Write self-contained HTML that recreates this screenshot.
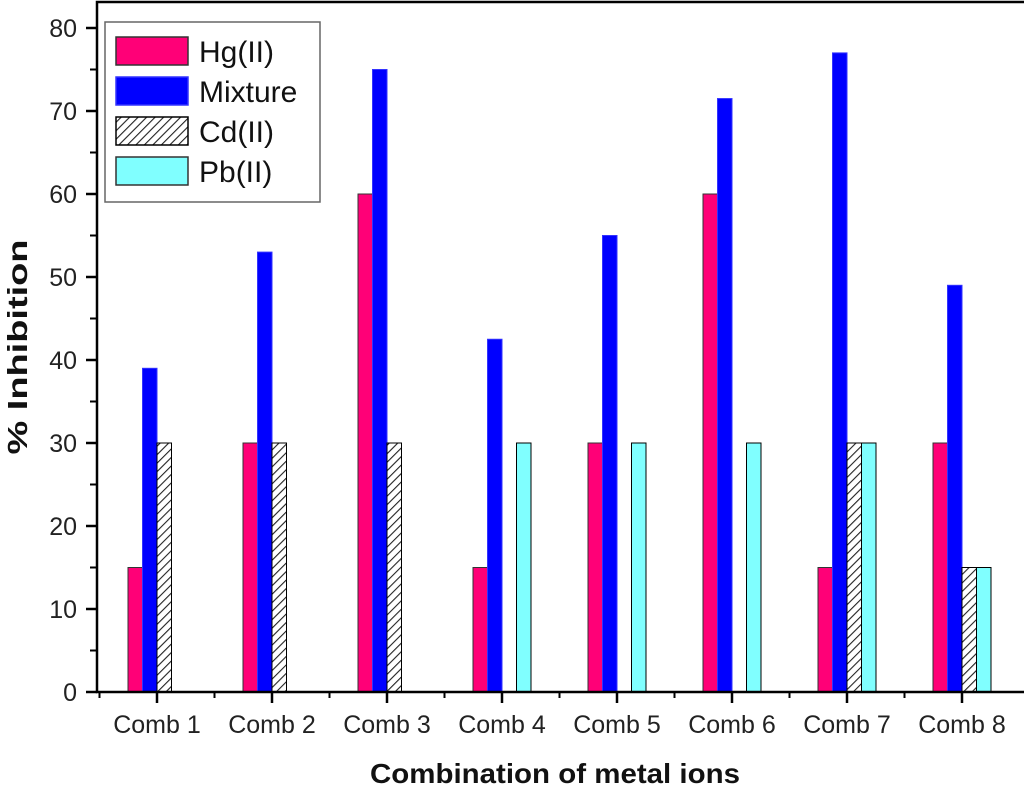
<!DOCTYPE html>
<html><head><meta charset="utf-8"><style>
body{margin:0;background:#fff;overflow:hidden;}
svg{display:block;font-family:"Liberation Sans",Arial,sans-serif;}
</style></head><body>
<svg id="chart" width="1024" height="787">
<defs>
<pattern id="hatch" patternUnits="userSpaceOnUse" width="6" height="6" patternTransform="rotate(45)">
<rect width="6" height="6" fill="#fff"/><line x1="0" y1="0" x2="0" y2="6" stroke="#222" stroke-width="2.2"/>
</pattern>
</defs>
<g id="bars"></g>
<g id="axes"></g>
</svg>
<script>
const categories=["Comb 1","Comb 2","Comb 3","Comb 4","Comb 5","Comb 6","Comb 7","Comb 8"];
const hgValues=[15,30,60,15,30,60,15,30];
const mixValues=[39,53,75,42.5,55,71.5,77,49];
const cdValues=[30,30,30,0,0,0,30,15];
const pbValues=[0,0,0,30,30,30,30,15];
const yTicks=[0,10,20,30,40,50,60,70,80];
const seriesNames=["Hg(II)","Mixture","Cd(II)","Pb(II)"];

const NS="http://www.w3.org/2000/svg";
const x0=97,x1=1032,yTop=2,yBot=692;
const xs=i=>157+i*115;
const ys=v=>692-v*8.3;
function mk(t,a,p){const e=document.createElementNS(NS,t);for(const k in a)e.setAttribute(k,a[k]);(p||document.getElementById('chart')).appendChild(e);return e;}
const bars=document.getElementById('bars'),axes=document.getElementById('axes');
const series=[[hgValues,"#ff0077","#333"],[mixValues,"#0000ff","#3333ff"],[cdValues,"url(#hatch)","#000"],[pbValues,"#80ffff","#000"]];
const bw=14.5;
series.forEach((s,si)=>{
 s[0].forEach((v,i)=>{
  if(v<=0)return;
  const r=mk('rect',{x:xs(i)-29+si*bw,y:ys(v),width:bw,height:ys(0)-ys(v),fill:s[1],stroke:s[2],'stroke-width':1},bars);
  
  
 });
});
const fr=mk('rect',{x:x0,y:yTop,width:x1-x0,height:yBot-yTop,fill:'none',stroke:'#000','stroke-width':2.5},axes);

yTicks.forEach(t=>{
 mk('line',{x1:x0-11,x2:x0,y1:ys(t),y2:ys(t),stroke:'#000','stroke-width':2.5},axes);
 const tx=mk('text',{x:x0-20,y:ys(t)+9,'text-anchor':'end','font-size':25,fill:'#222'},axes);
 tx.textContent=t;
 
 if(t<80)mk('line',{x1:x0-7,x2:x0,y1:ys(t+5),y2:ys(t+5),stroke:'#000','stroke-width':2},axes);
});
categories.forEach((c,i)=>{
 mk('line',{x1:xs(i),x2:xs(i),y1:yBot,y2:yBot+11,stroke:'#000','stroke-width':2.5},axes);
 mk('line',{x1:xs(i)-57.5,x2:xs(i)-57.5,y1:yBot,y2:yBot+6,stroke:'#000','stroke-width':2},axes);
 const tx=mk('text',{x:xs(i),y:733,'text-anchor':'middle','font-size':25,fill:'#222'},axes);
 tx.textContent=c;
 
});
const xl=mk('text',{x:555,y:783,'text-anchor':'middle','font-size':28,'font-weight':'bold',fill:'#111',textLength:370,lengthAdjust:'spacingAndGlyphs'},axes);
xl.textContent="Combination of metal ions";

const yl=mk('text',{x:0,y:0,'text-anchor':'middle','font-size':28,'font-weight':'bold',fill:'#111',textLength:215,lengthAdjust:'spacingAndGlyphs',transform:'translate(27,347) rotate(-90)'},axes);
yl.textContent="% Inhibition";

const lg=mk('g',{},axes);

mk('rect',{x:105,y:22,width:215,height:180,fill:'#fff',stroke:'#666','stroke-width':1.5},lg);
const sw=[["#ff0077","#333"],["#0000ff","#3333ff"],["url(#hatch)","#000"],["#80ffff","#333"]];
[37,77,117,157].forEach((yy,k)=>{
 const r=mk('rect',{x:116,y:yy,width:72,height:28,fill:sw[k][0],stroke:sw[k][1],'stroke-width':1.5},lg);
 
 const t=mk('text',{x:199,y:yy+25,'font-size':30,fill:'#111'},lg);
 t.textContent=seriesNames[k];
 
});
</script>
</body></html>
